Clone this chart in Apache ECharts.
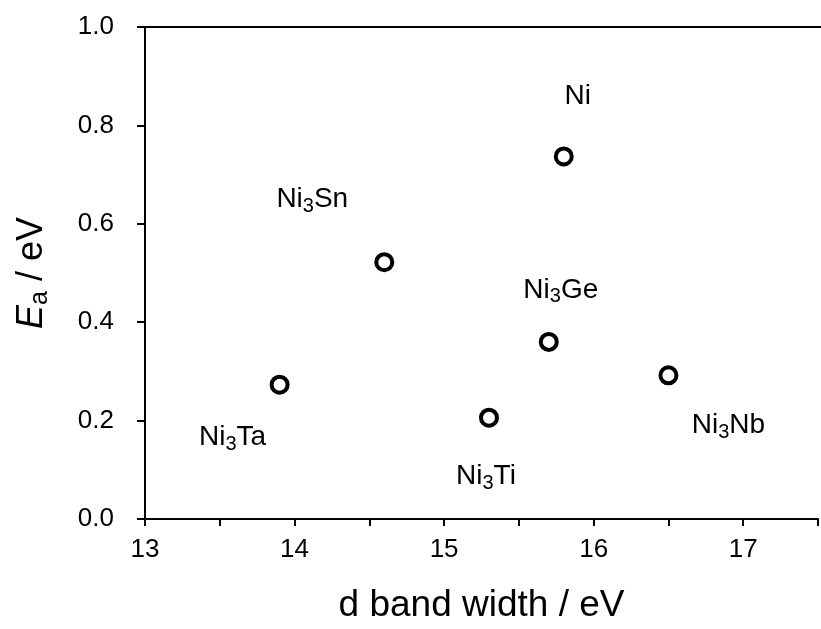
<!DOCTYPE html>
<html>
<head>
<meta charset="utf-8">
<script src="https://cdn.jsdelivr.net/npm/echarts@6/dist/echarts.min.js"></script>
<style>html,body{margin:0;padding:0;background:#fff;overflow:hidden;}#c{width:821px;height:629px;}</style>
</head>
<body>
<div id="c"></div>
<script>
// Data
const compounds = ['Ni3Ta', 'Ni3Sn', 'Ni3Ti', 'Ni3Ge', 'Ni', 'Ni3Nb'];
const dBandWidth = [13.90, 14.60, 15.30, 15.70, 15.80, 16.50];
const activationEnergy = [0.273, 0.522, 0.206, 0.360, 0.737, 0.292];
const xTicks = [13, 14, 15, 16, 17];
const yTicks = [0.0, 0.2, 0.4, 0.6, 0.8, 1.0];

// Label placement (pixel offsets from the marker)
const labelOffsets = [[-47, 53], [-72, -63], [-3, 59], [12, -52], [14, -60], [60, 50]];

const FONT = 'Liberation Sans, Arial, sans-serif';
function richName(s) { return s.replace(/(\d+)/g, '}{s|$1}{n|').replace(/^/, '{n|') + '}'; }

const chart = echarts.init(document.getElementById('c'));
chart.setOption({
  animation: false,
  backgroundColor: '#fff',
  grid: { left: 145, top: 27, bottom: 103, right: -4, containLabel: false },
  xAxis: {
    type: 'value', min: 13, max: 17.5, interval: 0.5,
    name: 'd band width / eV', nameLocation: 'middle', nameGap: 68,
    nameTextStyle: { fontFamily: FONT, fontSize: 37, color: '#000' },
    axisLine: { onZero: false, lineStyle: { color: '#000', width: 2 } },
    axisTick: { inside: false, length: 7, lineStyle: { color: '#000', width: 2 } },
    axisLabel: {
      margin: 18, fontFamily: FONT, fontSize: 26, color: '#000',
      formatter: v => (xTicks.indexOf(v) >= 0 ? String(v) : '')
    },
    splitLine: { show: false }
  },
  yAxis: {
    type: 'value', min: 0, max: 1, interval: 0.2,
    name: '{i|E}{s|a}{n| / eV}', nameLocation: 'middle', nameGap: 92, nameRotate: 90,
    nameTextStyle: {
      fontFamily: FONT, fontSize: 36, color: '#000',
      rich: {
        i: { fontFamily: FONT, fontSize: 36, fontStyle: 'italic', lineHeight: 42, color: '#000' },
        s: { fontFamily: FONT, fontSize: 25, lineHeight: 22, verticalAlign: 'bottom', color: '#000' },
        n: { fontFamily: FONT, fontSize: 36, lineHeight: 42, color: '#000' }
      }
    },
    axisLine: { onZero: false, lineStyle: { color: '#000', width: 2 } },
    axisTick: { inside: false, length: 8, lineStyle: { color: '#000', width: 2 } },
    axisLabel: {
      margin: 31, fontFamily: FONT, fontSize: 26, color: '#000',
      formatter: v => yTicks.find(t => Math.abs(t - v) < 1e-9).toFixed(1)
    },
    splitLine: { show: false }
  },
  series: [{
    type: 'scatter',
    symbol: 'circle',
    symbolSize: 16,
    itemStyle: { color: '#fff', borderColor: '#000', borderWidth: 4, opacity: 1 },
    data: compounds.map((n, i) => ({
      value: [dBandWidth[i], activationEnergy[i]],
      label: {
        show: true, position: 'inside', offset: labelOffsets[i],
        formatter: richName(n),
        rich: {
          n: { fontFamily: FONT, fontSize: 28, lineHeight: 34, color: '#000' },
          s: { fontFamily: FONT, fontSize: 20, lineHeight: 18, verticalAlign: 'bottom', color: '#000' }
        }
      }
    }))
  }]
});
// top border line of the plot frame
const topY = chart.convertToPixel({ yAxisIndex: 0 }, 1);
chart.setOption({
  graphic: [{ type: 'line', shape: { x1: 145, y1: topY, x2: 821, y2: topY }, style: { stroke: '#000', lineWidth: 2 } }]
});
</script>
</body>
</html>
